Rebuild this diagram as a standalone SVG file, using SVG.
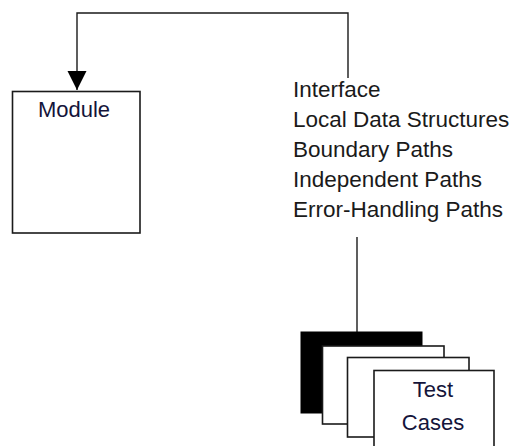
<svg xmlns="http://www.w3.org/2000/svg" width="513" height="446" viewBox="0 0 513 446">
  <style>
    .lbl { font-family: "Liberation Sans", Arial, sans-serif; font-size: 22.5px; fill: #1a1a1a; }
    .node-text { font-family: "Liberation Sans", Arial, sans-serif; font-size: 22px; fill: #14143a; }
    .box { fill: #ffffff; stroke: #1a1a1a; stroke-width: 1.6; }
    .conn { fill: none; stroke: #1a1a1a; stroke-width: 1.4; }
  </style>
  <defs>
    <marker id="arrow" markerUnits="userSpaceOnUse" markerWidth="20" markerHeight="20" refX="19" refY="9.5" orient="auto">
      <path d="M0,0 L19,9.5 L0,19 Z" fill="#000000"/>
    </marker>
  </defs>
  <rect width="513" height="446" fill="#ffffff"/>

  <g id="connectors">
    <path class="conn" d="M348,78 L348,13 L77,13 L77,90" marker-end="url(#arrow)"/>
    <path class="conn" d="M357,237 L357,332" stroke="#555555"/>
  </g>

  <g id="module">
    <rect class="box" x="12.5" y="91.5" width="127.5" height="141.5"/>
    <text class="node-text" x="74" y="117" text-anchor="middle">Module</text>
  </g>

  <g id="checklist">
    <text class="lbl" x="293" y="97">Interface</text>
    <text class="lbl" x="293" y="127">Local Data Structures</text>
    <text class="lbl" x="293" y="157">Boundary Paths</text>
    <text class="lbl" x="293" y="187">Independent Paths</text>
    <text class="lbl" x="293" y="217">Error-Handling Paths</text>
  </g>

  <g id="test-cases">
    <rect x="301" y="332" width="121" height="81" fill="#000000" stroke="#000000" stroke-width="1"/>
    <rect class="box" x="322.5" y="346" width="121.5" height="78"/>
    <rect class="box" x="347.5" y="357.5" width="121.5" height="79.5"/>
    <rect class="box" x="374" y="370.5" width="120" height="90"/>
    <text class="node-text" x="433" y="397" text-anchor="middle">Test</text>
    <text class="node-text" x="433" y="430" text-anchor="middle">Cases</text>
  </g>
</svg>
